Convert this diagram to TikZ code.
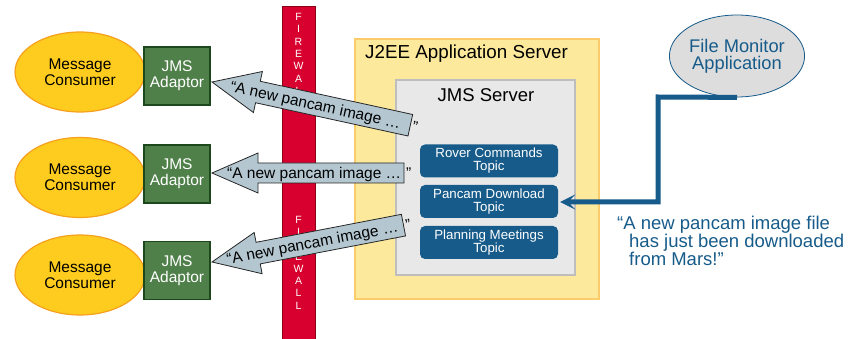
\documentclass[tikz,border=0pt]{standalone}
\usepackage{fontspec}
\setmainfont{Liberation Sans}
\usetikzlibrary{shapes.geometric,arrows.meta}
\definecolor{consfill}{RGB}{254,204,30}
\definecolor{consdraw}{RGB}{246,160,30}
\definecolor{adfill}{RGB}{80,128,74}
\definecolor{addraw}{RGB}{28,72,28}
\definecolor{fwfill}{RGB}{216,0,46}
\definecolor{fwdraw}{RGB}{140,0,20}
\definecolor{j2fill}{RGB}{253,233,155}
\definecolor{j2draw}{RGB}{252,204,106}
\definecolor{jmsfill}{RGB}{232,232,232}
\definecolor{jmsdraw}{RGB}{190,190,190}
\definecolor{topicblue}{RGB}{22,91,138}
\definecolor{fmfill}{RGB}{221,221,221}
\definecolor{msgfill}{RGB}{180,199,209}
\newcommand\fsz[2]{\fontsize{#1}{#2}\selectfont}
\begin{document}
\begin{tikzpicture}[x=1pt,y=-1pt,
  consumer/.style={ellipse, draw=consdraw, fill=consfill, line width=1.2pt,
    minimum width=130pt, minimum height=80pt, inner sep=0pt,
    font=\fsz{15.5}{16}, align=center},
  adaptor/.style={rectangle, draw=addraw, fill=adfill, line width=1.5pt,
    minimum width=66pt, minimum height=58pt, inner sep=0pt,
    text=white, font=\fsz{15.5}{16}, align=center},
  topic/.style={rectangle, rounded corners=5pt, fill=topicblue,
    minimum width=138pt, minimum height=33pt, inner sep=0pt,
    text=white, font=\fsz{13.3}{13}, align=center},
  fwletter/.style={text=white, font=\fsz{10.5}{10}, inner sep=0pt},
  msgarrow/.style={draw=black!85, fill=msgfill, line width=0.8pt},
  msgtext/.style={font=\fsz{15.5}{16}, inner sep=0pt, anchor=base west, transform shape},
  feed/.style={draw=topicblue, line width=5pt, miter limit=10,
    -{Stealth[length=15pt, width=15pt, inset=7pt]}},
]
\useasboundingbox (0,0) rectangle (855,339);

% consumers and adaptors
\node[consumer] (cons1) at (80,72) {Message\\Consumer};
\node[consumer] (cons2) at (80,177.5) {Message\\Consumer};
\node[consumer] (cons3) at (80,275) {Message\\Consumer};
\node[adaptor] (adapt1) at (177,76) {JMS\\Adaptor};
\node[adaptor] (adapt2) at (177,174) {JMS\\Adaptor};
\node[adaptor] (adapt3) at (177,270.5) {JMS\\Adaptor};

% application server
\draw[draw=j2draw, fill=j2fill, line width=1.5pt] (355,39) rectangle (599,299);
\node[anchor=base west, inner sep=0pt, font=\fsz{18.8}{19}] (j2ee) at (365,59) {J2EE Application Server};
\draw[draw=jmsdraw, fill=jmsfill, line width=1.5pt] (396,80) rectangle (575,275);
\node[anchor=base, inner sep=0pt, font=\fsz{18.5}{19}] (jms) at (486,102) {JMS Server};
\node[topic] (rover) at (489,161) {Rover Commands\\Topic};
\node[topic] (pancam) at (489,201.5) {Pancam Download\\Topic};
\node[topic] (planning) at (489,242.5) {Planning Meetings\\Topic};

% firewall
\draw[draw=fwdraw, fill=fwfill, line width=1pt] (282,7) rectangle (315,345);
\foreach \l [count=\i from 0] in {F,I,R,E,W,A,L,L}{
  \node[fwletter] (fwa\i) at (298.5,17+12.3*\i) {\l};
  \node[fwletter] (fwb\i) at (298.5,220+12.2*\i) {\l};
}

% file monitor
\node[ellipse, draw=topicblue, fill=fmfill, line width=0.8pt,
  minimum width=130pt, minimum height=82pt, inner sep=0pt,
  text=topicblue, font=\fsz{18.3}{17}, align=center] (fm) at (737,56) {File Monitor\\Application};
\coordinate (bendA) at (658,97);
\coordinate (bendB) at (658,202);
\coordinate (feedend) at ([xshift=2pt]pancam.east |- bendB);
\draw[feed] (fm.south) -- (bendA) -- (bendB) -- (feedend);
\node[anchor=north west, inner sep=0pt, align=left, text=topicblue,
  font=\fsz{18.5}{18}] (quote) at (617,216) {“A new pancam image file\\\hspace*{12pt}has just been downloaded\\\hspace*{12pt}from Mars!”};

% message arrows
\begin{scope}[shift={(212,82)}, rotate=-12.3]
  \draw[msgarrow] (0,0) -- (47,-21) -- (47,-11) -- (203,-11) -- (203,11) -- (47,11) -- (47,21) -- cycle;
  \node[msgtext] (m1) at (19,5.5) {“A new pancam image …};
  \node[msgtext] (q1) at (205,5.5) {”};
\end{scope}
\begin{scope}[shift={(212,173)}]
  \draw[msgarrow] (0,0) -- (46,-20) -- (46,-10) -- (192,-10) -- (192,10) -- (46,10) -- (46,20) -- cycle;
  \node[msgtext] (m2) at (15,5.5) {“A new pancam image …};
  \node[msgtext] (q2) at (194,5.5) {”};
\end{scope}
\begin{scope}[shift={(212,262)}, rotate=10.9]
  \draw[msgarrow] (0,0) -- (47,-21) -- (47,-11) -- (195,-11) -- (195,11) -- (47,11) -- (47,21) -- cycle;
  \node[msgtext] (m3) at (15,5.5) {“A new pancam image …};
  \node[msgtext] (q3) at (197,5.5) {”};
\end{scope}
\end{tikzpicture}
\end{document}
